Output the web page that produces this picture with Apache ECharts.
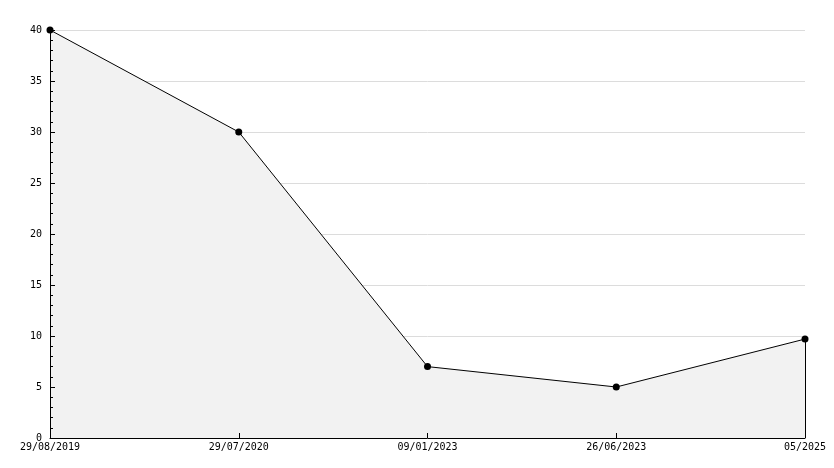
<!DOCTYPE html>
<html><head><meta charset="utf-8">
<script src="https://cdn.jsdelivr.net/npm/echarts@6/dist/echarts.min.js"></script>
<style>html,body{margin:0;padding:0;background:#fff}#c{width:834px;height:468px}</style>
</head><body><div id="c"></div>
<script>
const categories = ['29/08/2019','29/07/2020','09/01/2023','26/06/2023','05/2025'];
const values = [40, 30, 7, 5, 9.7];
const yTicks = {min: 0, max: 40, interval: 5};

const chart = echarts.init(document.getElementById('c'), null, {renderer:'canvas'});
const font = 'DejaVu Sans Mono';
chart.setOption({
  animation: false,
  backgroundColor: '#fff',
  grid: {left: 50, right: 29, top: 30, bottom: 30, containLabel: false},
  xAxis: {
    type: 'category', data: categories, boundaryGap: false, z: 5,
    axisLine: {show: true, lineStyle: {color: '#000', width: 1}},
    axisTick: {show: true, inside: true, length: 5, alignWithLabel: true, lineStyle: {color: '#000'}},
    axisLabel: {color: '#000', fontFamily: font, fontSize: 10, margin: 4, showMinLabel: true, showMaxLabel: true, interval: 0},
    splitLine: {show: false}
  },
  yAxis: [{
    type: 'value', min: yTicks.min, max: yTicks.max, interval: yTicks.interval, z: 0,
    axisLine: {show: false}, axisTick: {show: false}, axisLabel: {show: false},
    splitLine: {show: true, lineStyle: {color: '#dcdcdc', width: 1}}
  }, {
    type: 'value', min: yTicks.min, max: yTicks.max, interval: yTicks.interval, z: 5,
    position: 'left', offset: 0,
    axisLine: {show: true, lineStyle: {color: '#000', width: 1}},
    axisTick: {show: true, inside: true, length: 5, lineStyle: {color: '#000'}},
    minorTick: {show: true, splitNumber: 5, length: 3, lineStyle: {color: '#000'}},
    axisLabel: {color: '#000', fontFamily: font, fontSize: 10, margin: 8},
    splitLine: {show: false}
  }],
  series: [{
    type: 'line', data: values, z: 2, yAxisIndex: 0,
    symbol: 'circle', symbolSize: 7,
    itemStyle: {color: '#000'},
    lineStyle: {color: '#000', width: 1},
    areaStyle: {color: '#f2f2f2', opacity: 1},
    markLine: {
      silent: true, symbol: 'none', label: {show: false},
      lineStyle: {color: '#000', width: 1, type: 'solid'},
      data: [[{coord: [categories[categories.length-1], 0]}, {coord: [categories[categories.length-1], values[values.length-1]]}]]
    }
  }]
});
</script></body></html>
